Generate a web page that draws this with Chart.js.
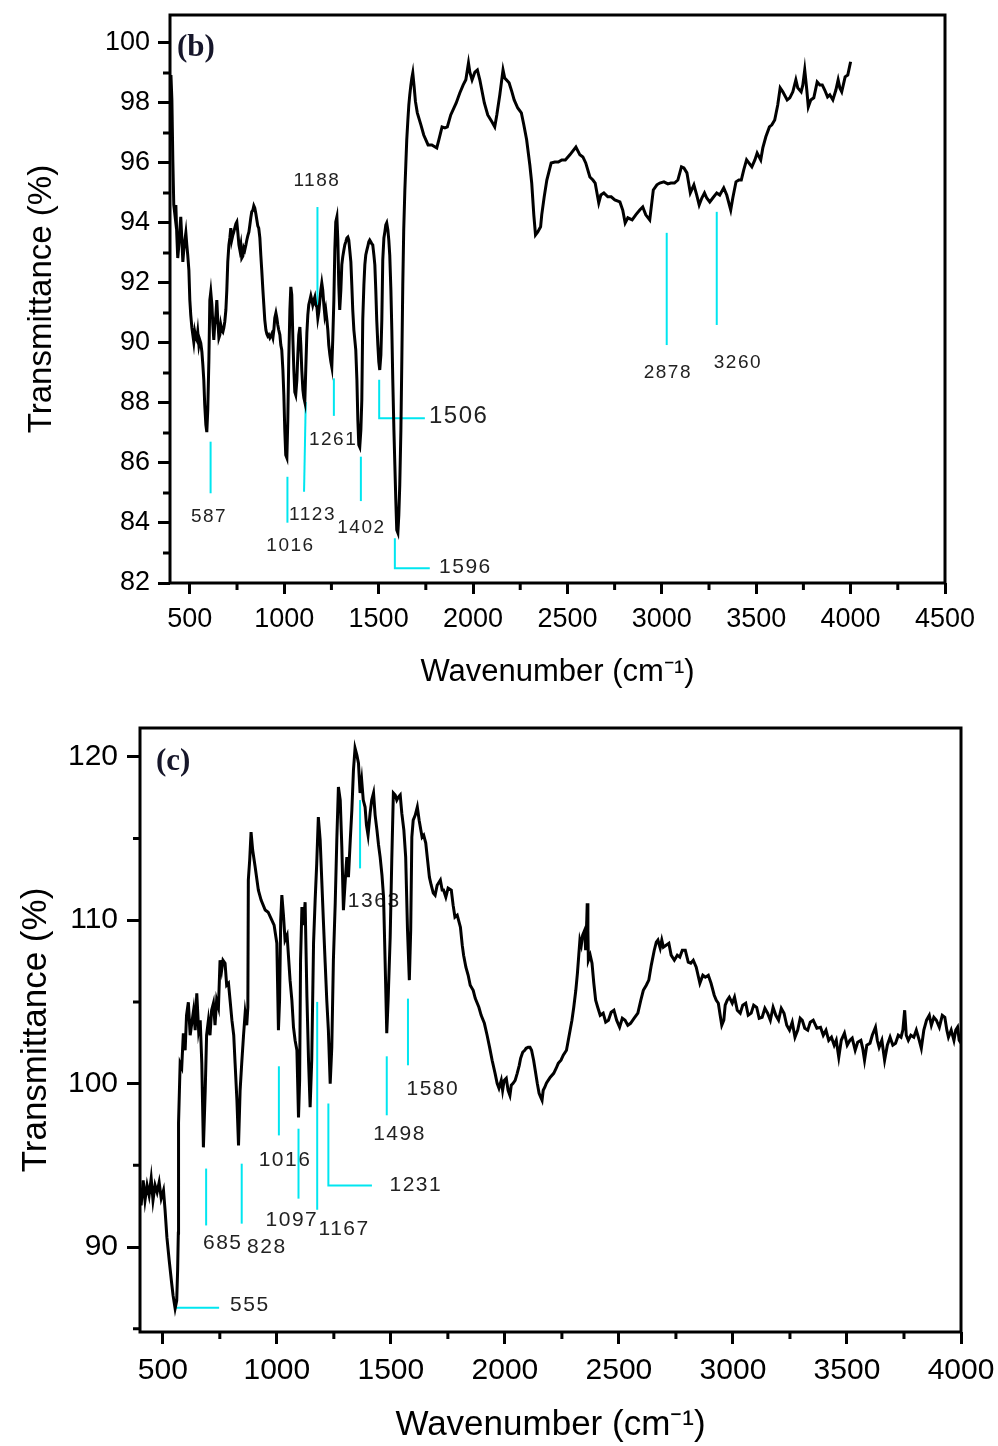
<!DOCTYPE html>
<html><head><meta charset="utf-8">
<script src="https://cdn.jsdelivr.net/npm/chart.js@4/dist/chart.umd.min.js"></script>
<style>
html,body{margin:0;padding:0;background:#fff;}
#wrap{position:relative;width:998px;height:1446px;overflow:hidden;}
canvas{position:absolute;left:0;}
#cb{top:0;} #cc{top:700px;}
</style></head><body>
<div id="wrap"><canvas id="cb" width="998" height="700" style="width:998px;height:700px"></canvas><canvas id="cc" width="998" height="746" style="width:998px;height:746px"></canvas></div>
<script>
// ---------- Panel (b) ----------
const wnB = [400,405,410,415,421,426,431,436,442,447,452,458,463,468,474,479,484,489,495,500,505,511,516,521,526,532,537,542,548,553,558,564,569,574,579,585,590,595,601,606,611,617,622,627,632,638,643,648,654,659,664,669,675,680,685,691,696,701,707,712,717,722,728,733,738,744,749,754,760,765,770,775,781,786,791,797,802,807,813,818,823,828,834,839,844,850,855,860,865,871,876,881,887,892,897,903,908,913,918,924,929,934,940,945,950,956,961,966,971,977,982,987,993,998,1003,1008,1014,1019,1024,1030,1035,1040,1046,1051,1056,1061,1067,1072,1077,1083,1088,1093,1099,1104,1109,1114,1120,1125,1130,1136,1141,1146,1151,1157,1162,1167,1173,1178,1183,1189,1194,1199,1204,1210,1215,1220,1226,1231,1236,1242,1247,1252,1257,1263,1268,1273,1279,1284,1289,1294,1300,1305,1310,1316,1321,1326,1332,1337,1342,1347,1353,1358,1363,1369,1374,1379,1385,1390,1395,1400,1406,1411,1416,1422,1427,1432,1438,1443,1448,1453,1459,1464,1469,1475,1480,1485,1490,1496,1501,1506,1512,1517,1522,1528,1533,1538,1543,1549,1554,1559,1565,1570,1575,1581,1586,1591,1596,1602,1607,1612,1618,1623,1628,1633,1639,1644,1649,1655,1660,1665,1671,1676,1681,1688,1695,1705,1724,1739,1762,1782,1808,1819,1836,1851,1864,1882,1911,1930,1948,1962,1976,1983,1995,2010,2023,2036,2060,2078,2100,2115,2126,2142,2159,2168,2191,2206,2218,2237,2256,2269,2284,2301,2311,2322,2331,2343,2358,2364,2377,2391,2414,2433,2452,2470,2489,2513,2545,2566,2582,2597,2619,2635,2647,2666,2677,2693,2714,2732,2751,2778,2793,2806,2820,2843,2862,2883,2899,2915,2936,2955,2974,2989,3011,3032,3048,3067,3085,3104,3117,3133,3151,3170,3185,3198,3212,3226,3238,3254,3270,3291,3307,3328,3344,3365,3376,3393,3408,3421,3434,3449,3461,3477,3493,3505,3524,3535,3551,3570,3583,3598,3614,3627,3641,3664,3678,3694,3710,3720,3738,3747,3757,3768,3776,3789,3805,3823,3837,3850,3863,3878,3890,3906,3922,3934,3943,3953,3971,3985,4000];
const tB = [98.93,98.1,96.1,94.6,94.27,94.6,93.6,92.83,93.27,93.77,94.2,93.43,92.7,93.1,93.43,93.67,93.27,92.93,92.43,91.43,90.93,90.5,90.27,90.03,90.37,90.17,90.1,90.37,89.93,90.1,90.0,89.7,89.27,88.77,87.93,87.27,87.03,87.77,89.43,91.43,91.7,91.27,90.6,90.1,90.6,90.93,91.43,90.77,90.17,90.27,90.6,90.43,90.37,90.5,90.7,91.1,91.77,92.7,93.27,93.5,93.83,93.43,93.6,93.7,93.83,93.97,94.03,93.7,93.27,93.1,93.27,92.83,92.9,93.17,93.1,93.27,93.43,93.57,93.7,93.93,94.17,94.37,94.43,94.57,94.5,94.3,94.1,93.9,93.83,93.5,92.93,92.43,91.77,91.27,90.77,90.43,90.3,90.23,90.27,90.17,90.23,90.3,90.17,90.43,90.83,91.0,90.83,90.6,90.43,90.27,89.93,89.77,89.1,88.27,87.1,86.27,86.17,87.43,89.43,91.1,91.87,91.6,90.1,89.1,88.37,88.27,88.77,89.6,90.27,90.53,89.93,89.1,88.43,88.17,88.03,89.1,90.33,90.93,91.27,91.43,91.57,91.43,91.27,91.43,91.53,91.27,91.2,90.83,91.03,91.43,91.77,92.0,91.77,91.27,90.93,91.1,90.77,90.43,89.93,89.6,89.37,89.2,90.1,91.43,93.1,94.03,94.2,93.43,91.93,91.1,91.77,92.6,92.87,93.1,93.27,93.37,93.5,93.53,93.43,93.1,92.7,91.93,91.1,90.43,90.1,89.77,88.77,87.43,86.6,86.53,87.1,88.1,90.77,91.93,92.6,92.93,93.1,93.23,93.37,93.43,93.37,93.3,93.27,92.93,92.6,91.77,90.77,89.93,89.37,89.1,89.6,90.77,92.77,93.5,93.7,93.93,94.0,93.77,93.43,92.93,91.77,90.43,88.77,87.1,85.93,84.77,83.77,83.67,84.27,85.27,87.1,89.43,91.93,93.77,95.1,95.93,96.77,97.43,97.93,98.27,98.6,98.83,99.0,98.55,98.05,97.67,97.27,96.93,96.6,96.6,96.5,96.77,97.2,97.17,97.2,97.6,98.0,98.33,98.6,98.77,99.33,99.03,98.77,99.03,99.1,98.77,98.0,97.6,97.37,97.2,97.6,98.27,99.1,98.83,98.67,98.37,98.1,97.83,97.67,97.27,96.77,95.93,95.33,94.27,93.6,93.7,93.87,94.27,94.87,95.43,96.0,96.03,96.03,96.1,96.1,96.27,96.53,96.27,96.2,96.0,95.53,95.43,95.33,94.67,94.93,95.0,94.87,94.87,94.77,94.7,94.43,94.0,94.17,94.1,94.27,94.43,94.53,94.27,94.1,95.1,95.27,95.33,95.37,95.3,95.33,95.33,95.43,95.87,95.83,95.67,95.0,95.27,94.93,94.6,94.83,95.0,94.83,94.7,94.83,95.0,94.93,95.17,94.93,94.43,94.83,95.37,95.43,95.43,95.77,96.1,96.0,95.87,96.1,96.33,96.1,96.5,96.87,97.2,97.27,97.43,97.93,98.5,98.37,98.1,98.17,98.37,98.77,98.5,98.37,98.6,99.1,98.43,97.87,98.1,98.17,98.7,98.6,98.6,98.43,98.2,98.27,98.1,98.43,98.77,98.5,98.37,98.87,98.93,99.37];
const xTicksB = [500,1000,1500,2000,2500,3000,3500,4000,4500];
const xMinorB = [750,1250,1750,2250,2750,3250,3750,4250];
const yTicksB = [82,84,86,88,90,92,94,96,98,100];
const yMinorB = [83,85,87,89,91,93,95,97,99];
const peakTextB = ['587','1016','1123','1188','1261','1402','1506','1596','2878','3260'];
const peakPathB = [
  [[610,86.71],[610,84.99]],
  [[1017,85.54],[1017,84.01]],
  [[1114,88.03],[1105,85.04]],
  [[1176,94.53],[1176,90.93]],
  [[1263,88.82],[1263,87.57]],
  [[1406,86.21],[1406,84.73]],
  [[1503,88.77],[1503,87.49],[1745,87.49]],
  [[1586,83.49],[1586,82.49],[1771,82.49]],
  [[3026,93.67],[3026,89.93]],
  [[3291,94.37],[3291,90.6]]
];
const peakAtB = [[602,84.21],[1033,83.23],[1150,84.27],[1173,95.4],[1259,86.79],[1409,83.84],[1767,87.54],[1820,82.54],[3032,89.0],[3403,89.33]];

// ---------- Panel (c) ----------
const wnC = [400,405,414,422,431,440,449,457,466,475,484,493,503,510,518,528,539,545,554,561,565,568,569,576,583,590,598,604,612,620,627,635,642,649,657,664,671,678,686,692,700,707,714,722,729,736,744,751,758,764,773,780,788,795,803,811,817,825,832,839,846,854,861,868,873,875,881,887,894,905,919,931,949,962,978,988,1000,1007,1012,1017,1022,1029,1036,1045,1058,1066,1073,1080,1088,1095,1100,1104,1110,1117,1124,1132,1139,1146,1153,1161,1168,1175,1182,1190,1197,1204,1212,1219,1226,1234,1241,1248,1256,1263,1270,1278,1285,1292,1300,1307,1314,1322,1329,1336,1343,1351,1358,1365,1372,1379,1387,1393,1400,1409,1416,1424,1431,1439,1446,1453,1461,1468,1475,1482,1488,1497,1504,1511,1519,1526,1533,1541,1548,1557,1565,1573,1581,1587,1592,1598,1607,1616,1624,1637,1644,1653,1661,1669,1677,1686,1694,1703,1717,1725,1731,1741,1751,1765,1773,1781,1791,1805,1813,1819,1829,1839,1848,1861,1870,1886,1896,1910,1922,1933,1944,1957,1966,1974,1984,1990,1997,2006,2014,2022,2028,2036,2045,2054,2063,2069,2078,2087,2093,2102,2110,2117,2126,2133,2142,2150,2157,2163,2168,2175,2182,2190,2199,2214,2225,2234,2246,2256,2270,2278,2286,2294,2302,2311,2318,2324,2329,2335,2341,2350,2354,2359,2361,2364,2366,2374,2382,2390,2398,2407,2418,2431,2442,2454,2466,2478,2490,2503,2515,2527,2539,2551,2567,2583,2596,2607,2620,2631,2642,2655,2664,2671,2681,2688,2695,2707,2719,2729,2743,2756,2767,2778,2791,2804,2815,2826,2839,2855,2868,2879,2892,2904,2918,2927,2936,2944,2951,2960,2966,2975,2984,2997,3007,3019,3032,3043,3056,3067,3080,3091,3104,3115,3128,3140,3152,3164,3176,3188,3200,3212,3224,3236,3248,3260,3272,3284,3295,3304,3315,3328,3339,3352,3368,3384,3396,3408,3420,3432,3444,3453,3464,3475,3489,3501,3513,3523,3536,3547,3561,3569,3577,3587,3601,3611,3625,3633,3641,3653,3665,3677,3689,3701,3713,3725,3737,3745,3753,3760,3769,3780,3793,3804,3817,3826,3837,3849,3861,3870,3881,3892,3905,3918,3929,3938,3945,3957,3969,3977,3985,3992,4000];
const tC = [93.47,92.55,94.08,92.86,93.78,93.16,94.2,92.86,93.78,93.35,93.96,92.98,93.47,92.24,90.59,89.18,87.77,87.04,86.24,86.73,88.57,90.84,97.57,101.24,101.0,103.08,102.04,104.18,104.98,102.96,103.69,104.49,103.27,105.53,103.27,103.88,101.24,96.1,99.59,102.96,103.88,102.96,104.49,104.92,103.57,105.1,104.67,107.55,106.94,107.55,107.37,106.02,106.14,105.1,103.88,102.96,101.24,98.98,96.22,99.59,101.24,102.96,104.31,103.57,104.67,112.45,113.67,115.39,114.29,113.25,111.84,111.23,110.62,110.49,110.0,109.7,108.59,103.27,105.1,110.0,111.53,110.31,108.78,109.08,106.33,105.1,103.45,102.65,102.04,97.93,100.2,107.55,110.8,109.7,111.1,105.29,101.43,98.55,101.43,108.59,111.23,113.49,116.31,114.9,112.45,110.0,107.37,105.1,103.27,100.0,102.22,107.55,111.04,114.9,118.15,117.35,114.47,110.61,112.45,113.86,112.63,114.9,116.74,119.19,120.53,120.1,119.61,117.78,118.57,117.35,116.92,115.82,115.2,116.55,117.35,117.78,116.43,115.51,114.6,113.86,112.76,111.41,107.37,103.08,105.1,108.96,113.67,117.78,117.66,117.35,117.53,117.66,116.55,115.51,113.86,109.39,106.33,109.39,115.08,116.12,116.43,116.92,116.12,115.08,115.2,114.72,113.67,112.63,112.14,111.66,111.53,112.14,112.45,111.84,111.84,111.41,111.96,111.84,110.92,110.19,110.31,109.57,108.47,107.86,107.12,106.63,106.02,105.71,105.22,104.67,104.18,103.69,102.96,102.22,101.43,100.63,100.02,99.72,100.2,99.59,100.2,100.33,99.59,99.28,99.9,100.02,100.2,100.63,101.12,101.55,101.92,102.04,102.16,102.22,102.22,102.04,101.43,100.82,100.02,99.41,99.17,98.98,99.59,99.78,100.02,100.2,100.39,100.63,100.94,101.24,101.43,101.74,102.04,102.65,103.27,103.88,104.67,105.71,106.75,107.86,108.78,108.47,109.08,109.39,108.16,110.0,111.04,109.39,107.55,107.86,107.37,106.14,105.1,104.67,104.18,104.31,103.76,103.88,104.37,104.49,103.88,103.45,104.0,103.88,103.57,103.69,104.0,104.31,105.1,105.71,106.02,106.33,107.25,108.16,108.65,108.78,108.29,108.78,108.35,108.47,108.59,107.86,107.55,107.86,107.74,108.16,108.16,107.43,107.37,107.55,107.12,106.14,106.63,106.51,106.63,106.14,105.41,105.1,104.92,104.18,103.57,103.88,104.8,105.1,105.29,104.92,105.29,104.49,104.31,104.8,104.92,104.18,104.31,104.8,104.67,104.0,104.06,104.61,104.31,103.88,104.67,104.18,103.88,104.61,104.31,103.57,103.27,103.76,102.84,103.27,104.0,103.88,103.39,103.27,103.76,103.88,103.39,103.45,102.96,103.27,102.65,102.84,102.35,102.65,101.61,102.65,103.08,102.35,102.65,102.78,102.04,102.53,102.65,102.16,101.43,102.35,102.47,102.96,103.45,102.65,102.22,102.65,101.43,102.35,102.84,102.35,102.47,102.96,102.84,103.27,104.49,102.96,102.65,102.96,102.84,103.27,102.65,102.16,103.27,103.88,104.18,103.57,104.06,103.88,103.45,104.18,104.06,103.27,102.84,103.27,102.65,103.27,103.45,102.65,102.47];
const xTicksC = [500,1000,1500,2000,2500,3000,3500,4000];
const xMinorC = [750,1250,1750,2250,2750,3250,3750];
const yTicksC = [90,100,110,120];
const yMinorC = [85,95,105,115];
const peakTextC = ['555','685','828','1016','1097','1167','1231','1498','1580','1363'];
const peakPathC = [
  [[554,86.28],[747,86.28]],
  [[690,94.8],[690,91.32]],
  [[846,95.1],[846,91.43]],
  [[1009,101.06],[1009,96.83]],
  [[1095,97.24],[1095,92.96]],
  [[1177,105.0],[1177,92.28]],
  [[1226,98.78],[1226,93.77],[1417,93.77]],
  [[1482,101.67],[1482,98.06]],
  [[1575,105.2],[1575,101.12]],
  [[1365,117.35],[1365,113.17]]
];
const peakAtC = [[795,86.42],[763,90.24],[956,89.96],[1036,95.3],[1066,91.67],[1295,91.12],[1494,93.77],[1538,96.9],[1684,99.63],[1427,111.18]];

// ---------- drawing helpers ----------
function decorPlugin(cfg){
  return {
    id:'decor',
    beforeDatasetsDraw(chart){
      const {ctx, scales:{x,y}} = chart;
      ctx.save();
      ctx.strokeStyle = '#00e6f0';
      ctx.lineWidth = 2;
      cfg.texts.forEach((t,i)=>{
        const path = cfg.paths[i];
        ctx.beginPath();
        path.forEach((p,k)=>{
          const px = x.getPixelForValue(p[0]), py = y.getPixelForValue(p[1]);
          if(k===0) ctx.moveTo(px,py); else ctx.lineTo(px,py);
        });
        ctx.stroke();
        const big = cfg.big && cfg.big[t];
        ctx.font = (big || cfg.size) + 'px "Liberation Sans"';
        ctx.fillStyle = '#222';
        ctx.textAlign = (cfg.left && cfg.left.includes(t)) ? 'left' : 'center';
        ctx.textBaseline = 'middle';
        try{ ctx.letterSpacing = '1.5px'; }catch(e){}
        ctx.fillText(t, x.getPixelForValue(cfg.at[i][0]), y.getPixelForValue(cfg.at[i][1]));
      });
      ctx.restore();
    },
    afterDatasetsDraw(chart){
      const {ctx, chartArea:a, scales:{x,y}} = chart;
      ctx.save();
      ctx.strokeStyle = '#000';
      ctx.lineWidth = 3;
      ctx.strokeRect(a.left, a.top, a.right-a.left, a.bottom-a.top);
      ctx.beginPath();
      cfg.xMinor.forEach(v=>{ const px=x.getPixelForValue(v); ctx.moveTo(px,a.bottom); ctx.lineTo(px,a.bottom+7); });
      cfg.yMinor.forEach(v=>{ const py=y.getPixelForValue(v); ctx.moveTo(a.left-7,py); ctx.lineTo(a.left,py); });
      ctx.stroke();
      ctx.fillStyle = '#16162a';
      ctx.font = 'bold ' + cfg.panelSize + 'px "Liberation Serif"';
      ctx.textAlign = 'left'; ctx.textBaseline = 'middle';
      ctx.fillText(cfg.panel, a.left + cfg.panelDx, a.top + cfg.panelDy);
      ctx.restore();
    }
  };
}

function makeChart(id, p){
  const data = p.wn.map((w,i)=>({x:w, y:p.t[i]}));
  return new Chart(document.getElementById(id), {
    type:'line',
    data:{datasets:[{data, borderColor:'#000', borderWidth:3, pointRadius:0, tension:0, fill:false}]},
    options:{
      responsive:false, animation:false,
      layout:{padding:{top:p.padTop, right:p.padRight, left:0, bottom:0}},
      plugins:{legend:{display:false}, tooltip:{enabled:false}},
      scales:{
        x:{type:'linear', min:p.xMin, max:p.xMax,
          afterBuildTicks:s=>{ s.ticks = p.xTicks.map(v=>({value:v})); },
          afterFit:s=>{ s.height = p.xAxisH; s.paddingLeft = 0; s.paddingRight = 0; },
          border:{display:false},
          grid:{drawOnChartArea:false, drawTicks:true, tickLength:p.tickLen, tickWidth:3, tickColor:'#000'},
          ticks:{color:'#000', autoSkip:false, maxRotation:0, padding:p.xTickPad, font:{family:'Liberation Sans', size:p.tickSize}, callback:v=>String(v)},
          title:{display:true, text:'Wavenumber (cm⁻¹)', color:'#000', font:{family:'Liberation Sans', size:p.xTitleSize}, padding:{top:0, bottom:p.xTitlePad}}
        },
        y:{type:'linear', min:p.yMin, max:p.yMax,
          afterBuildTicks:s=>{ s.ticks = p.yTicks.map(v=>({value:v})); },
          afterFit:s=>{ s.width = p.yAxisW; s.paddingTop = 0; s.paddingBottom = 0; },
          border:{display:false},
          grid:{drawOnChartArea:false, drawTicks:true, tickLength:p.tickLen+1, tickWidth:3, tickColor:'#000'},
          ticks:{color:'#000', autoSkip:false, padding:p.yTickPad, font:{family:'Liberation Sans', size:p.tickSize}, callback:v=>String(v)},
          title:{display:true, text:'Transmittance (%)', color:'#000', font:{family:'Liberation Sans', size:p.yTitleSize}, padding:{top:p.yTitlePad, bottom:0}}
        }
      }
    },
    plugins:[decorPlugin(p.decor)]
  });
}

makeChart('cb', {
  wn:wnB, t:tB, xMin:395, xMax:4500, yMin:82, yMax:100.93,
  xTicks:xTicksB, yTicks:yTicksB,
  padTop:15, padRight:53, xAxisH:117, yAxisW:170,
  tickLen:11, tickSize:27, xTitleSize:31, yTitleSize:33, xTickPad:9, yTickPad:8, xTitlePad:9, yTitlePad:22,
  decor:{texts:peakTextB, paths:peakPathB, at:peakAtB, size:19, big:{'1506':24,'1596':21}, left:['1506','1596'],
         xMinor:xMinorB, yMinor:yMinorB, panel:'(b)', panelSize:31, panelDx:7, panelDy:33}
});
makeChart('cc', {
  wn:wnC, t:tC, xMin:400, xMax:4000, yMin:84.8, yMax:121.76,
  xTicks:xTicksC, yTicks:yTicksC,
  padTop:28, padRight:37, xAxisH:114, yAxisW:140,
  tickLen:12, tickSize:30, xTitleSize:35, yTitleSize:35, xTickPad:9, yTickPad:9, xTitlePad:0, yTitlePad:15,
  decor:{texts:peakTextC, paths:peakPathC, at:peakAtC, size:21, big:{}, left:['555','1231'],
         xMinor:xMinorC, yMinor:yMinorC, panel:'(c)', panelSize:31, panelDx:16, panelDy:34}
});
</script></body></html>
